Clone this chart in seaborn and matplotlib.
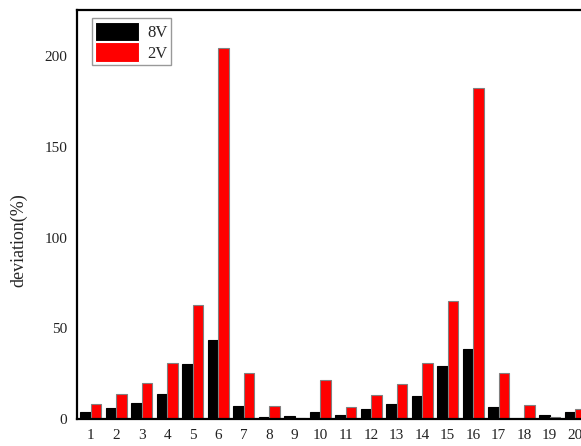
import matplotlib
matplotlib.use("Agg")
import matplotlib.pyplot as plt
import seaborn as sns
import pandas as pd

categories = [str(i) for i in range(1, 21)]
v8 = [3.7, 6.1, 9.0, 13.6, 30.5, 43.5, 7.2, 0.9, 1.8, 3.7,
      2.2, 5.3, 8.3, 12.7, 29.2, 38.8, 6.4, 0.0, 2.2, 3.7]
v2 = [8.4, 13.8, 19.8, 30.7, 63.0, 204.3, 25.2, 7.0, 0.5, 21.3,
      6.8, 13.0, 19.5, 30.9, 65.2, 182.6, 25.2, 7.9, 0.9, 5.5]
series = ["8V", "2V"]
colors = ["#000000", "#ff0000"]
yticks = [0, 50, 100, 150, 200]

df = pd.DataFrame({
    "cat": categories * 2,
    "val": v8 + v2,
    "series": [series[0]] * len(categories) + [series[1]] * len(categories),
})

sns.set_theme(style="white")
plt.rcParams["font.family"] = ["Liberation Serif", "DejaVu Serif"]

W, H = 581, 446
fig = plt.figure(figsize=(W / 100, H / 100), dpi=100)
ax_l, ax_r, ax_t, ax_b = 77, 589, 10, 419
ax = fig.add_axes([ax_l / W, 1 - ax_b / H, (ax_r - ax_l) / W, (ax_b - ax_t) / H])

sns.barplot(data=df, x="cat", y="val", hue="series", hue_order=series,
            palette=colors, width=0.82, ax=ax, saturation=1, linewidth=0.8)
edge = ["#000000", "#808080"]
for cont, ec in zip(ax.containers, edge):
    for p in cont:
        p.set_edgecolor(ec)

ax.set_xlim(-0.54, 19.54)
ax.set_ylim(0, 225.5)
ax.set_yticks(yticks)
ax.set_xlabel("")
ax.set_ylabel("deviation(%)", fontsize=13)
ax.yaxis.set_label_coords(-0.096, 0.438)
ax.tick_params(axis="both", length=0, labelsize=11, pad=7, colors="#222222")
for s in ax.spines.values():
    s.set_linewidth(1.6)
    s.set_color("black")

leg = ax.legend(loc="upper left", bbox_to_anchor=(0.0293, 0.98), borderaxespad=0,
                fontsize=12, handlelength=2.6, handleheight=1.4, labelspacing=0.1,
                borderpad=0.2, handletextpad=0.5, frameon=True, fancybox=False)
leg.get_frame().set_edgecolor("#808080")
leg.get_frame().set_linewidth(1.0)

fig.savefig("out.png", dpi=100)
